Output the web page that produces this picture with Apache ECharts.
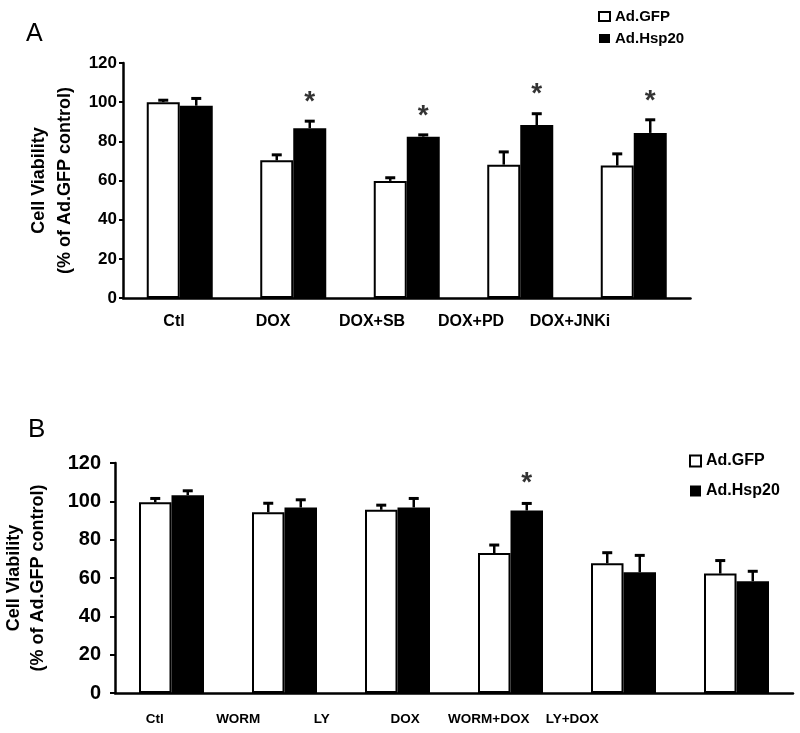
<!DOCTYPE html>
<html>
<head>
<meta charset="utf-8">
<script src="https://cdn.jsdelivr.net/npm/echarts@6/dist/echarts.min.js"></script>
<style>
html,body{margin:0;padding:0;background:#fff;}
#chart{width:800px;height:733px;}
</style>
</head>
<body>
<div id="chart"></div>
<script>
// ---- Panel A data ----
const categoriesA = ['Ctl', 'DOX', 'DOX+SB', 'DOX+PD', 'DOX+JNKi'];
const gfpA = [100.0, 70.3, 59.8, 68.1, 67.6];
const gfpErrA = [1.0, 2.8, 1.6, 6.5, 6.0];
const hspA = [98.2, 86.7, 82.4, 88.3, 84.3];
const hspErrA = [3.7, 3.6, 0.9, 5.8, 6.7];
const starsA = [false, true, true, true, true];

// ---- Panel B data ----
const categoriesB = ['Ctl', 'WORM', 'LY', 'DOX', 'WORM+DOX', 'LY+DOX'];
const gfpB = [99.5, 94.3, 95.6, 73.0, 67.7, 62.3];
const gfpErrB = [2.0, 4.7, 2.4, 4.2, 5.5, 6.8];
const hspB = [103.2, 96.8, 96.8, 95.2, 63.0, 58.3];
const hspErrB = [2.3, 4.0, 4.7, 3.7, 8.8, 5.2];
const starsB = [false, false, false, true, false, false];

// ---- axis ----
const yMin = 0, yMax = 120, yStep = 20;
const seriesNames = ['Ad.GFP', 'Ad.Hsp20'];
const yTitle = 'Cell Viability\n(% of Ad.GFP control)';

const FONT = '"Liberation Sans", Arial, Helvetica, sans-serif';
const BW_A = 33, BW_B = 32.5;

function errSeries(xi, yi, means, errs, side, bw) {
  return {
    type: 'custom', xAxisIndex: xi, yAxisIndex: yi, z: 5, silent: true,
    data: means.map((m, i) => [i, m, errs[i]]),
    renderItem: function (params, api) {
      const i = api.value(0), m = api.value(1), e = api.value(2);
      const p0 = api.coord([i, m]);
      const p1 = api.coord([i, m + e]);
      const x = p0[0] + side * bw / 2;
      return {
        type: 'group',
        children: [
          {type: 'line', shape: {x1: x, y1: p0[1], x2: x, y2: p1[1]},
           style: {stroke: '#000', lineWidth: 2.5}},
          {type: 'line', shape: {x1: x - 5, y1: p1[1], x2: x + 5, y2: p1[1]},
           style: {stroke: '#000', lineWidth: 3}}
        ]
      };
    }
  };
}

function starSeries(xi, yi, means, errs, flags, bw, dist) {
  const d = [];
  flags.forEach((f, i) => { if (f) d.push([i, means[i] + errs[i]]); });
  return {
    type: 'scatter', xAxisIndex: xi, yAxisIndex: yi, symbolSize: 0, silent: true, z: 6,
    data: d,
    label: {show: true, formatter: '*', position: 'top', distance: dist,
            offset: [bw / 2, 0], fontSize: 28, fontWeight: 'bold', color: '#000', fontFamily: FONT}
  };
}

function barPair(xi, yi, g, h, bw) {
  return [
    {name: seriesNames[0], type: 'bar', xAxisIndex: xi, yAxisIndex: yi, data: g,
     barWidth: bw, barGap: '0%', silent: true,
     itemStyle: {color: '#fff', borderColor: '#000', borderWidth: 2}},
    {name: seriesNames[1], type: 'bar', xAxisIndex: xi, yAxisIndex: yi, data: h,
     barWidth: bw, barGap: '0%', silent: true,
     itemStyle: {color: '#000', borderColor: '#000', borderWidth: 0}}
  ];
}

function valueAxis(gi, fs, tickLen, margin, gap, lh) {
  return {
    type: 'value', gridIndex: gi, min: yMin, max: yMax, interval: yStep,
    splitLine: {show: false},
    axisLine: {show: true, lineStyle: {color: '#000', width: 2.5}},
    axisTick: {show: true, length: tickLen, lineStyle: {color: '#000', width: 2}},
    axisLabel: {fontSize: fs, fontWeight: 'bold', color: '#000', fontFamily: FONT, margin: margin},
    name: yTitle, nameLocation: 'middle', nameRotate: 90, nameGap: gap,
    nameTextStyle: {fontSize: 18, fontWeight: 'bold', color: '#000', fontFamily: FONT, lineHeight: lh}
  };
}

const chart = echarts.init(document.getElementById('chart'), null, {renderer: 'canvas'});
chart.setOption({
  backgroundColor: '#fff',
  animation: false,
  title: [
    {text: 'A', left: 21, top: 17, textStyle: {fontSize: 25, fontWeight: 'normal', color: '#000', fontFamily: FONT}},
    {text: 'B', left: 23, top: 412, textStyle: {fontSize: 26, fontWeight: 'normal', color: '#000', fontFamily: FONT}}
  ],
  legend: [
    {data: seriesNames, orient: 'vertical', left: 593, top: 4, icon: 'rect',
     itemWidth: 11, itemHeight: 9, itemGap: 7, selectedMode: false,
     textStyle: {fontSize: 15, fontWeight: 'bold', color: '#000', fontFamily: FONT}},
    {data: seriesNames, orient: 'vertical', left: 684, top: 448, icon: 'rect',
     itemWidth: 11, itemHeight: 11, itemGap: 14, selectedMode: false,
     textStyle: {fontSize: 16, fontWeight: 'bold', color: '#000', fontFamily: FONT}}
  ],
  grid: [
    {left: 123, top: 63, width: 567.5, height: 235, outerBoundsMode: 'none', containLabel: false},
    {left: 115, top: 463, width: 678, height: 230, outerBoundsMode: 'none', containLabel: false},
    {left: 124.5, top: 63, width: 495, height: 235, outerBoundsMode: 'none', containLabel: false},
    {left: 113, top: 463, width: 501, height: 230, outerBoundsMode: 'none', containLabel: false}
  ],
  xAxis: [
    {type: 'category', gridIndex: 0, data: categoriesA,
     axisLine: {lineStyle: {color: '#000', width: 2.5}}, axisTick: {show: false}, axisLabel: {show: false}},
    {type: 'category', gridIndex: 1, data: categoriesB,
     axisLine: {lineStyle: {color: '#000', width: 2.5}}, axisTick: {show: false}, axisLabel: {show: false}},
    {type: 'category', gridIndex: 2, data: categoriesA,
     axisLine: {show: false}, axisTick: {show: false},
     axisLabel: {interval: 0, fontSize: 16, fontWeight: 'bold', color: '#000', fontFamily: FONT, margin: 16}},
    {type: 'category', gridIndex: 3, data: categoriesB,
     axisLine: {show: false}, axisTick: {show: false},
     axisLabel: {interval: 0, fontSize: 13.5, fontWeight: 'bold', color: '#000', fontFamily: FONT, margin: 19}}
  ],
  yAxis: [
    valueAxis(0, 17, 4, 6, 45, 26),
    valueAxis(1, 20, 5, 14, 65, 24),
    {type: 'value', gridIndex: 2, show: false},
    {type: 'value', gridIndex: 3, show: false}
  ],
  series: [
    ...barPair(0, 0, gfpA, hspA, BW_A),
    errSeries(0, 0, gfpA, gfpErrA, -1, BW_A),
    errSeries(0, 0, hspA, hspErrA, 1, BW_A),
    starSeries(0, 0, hspA, hspErrA, starsA, BW_A, 5),
    ...barPair(1, 1, gfpB, hspB, BW_B),
    errSeries(1, 1, gfpB, gfpErrB, -1, BW_B),
    errSeries(1, 1, hspB, hspErrB, 1, BW_B),
    starSeries(1, 1, hspB, hspErrB, starsB, BW_B, 6)
  ]
});
</script>
</body>
</html>
